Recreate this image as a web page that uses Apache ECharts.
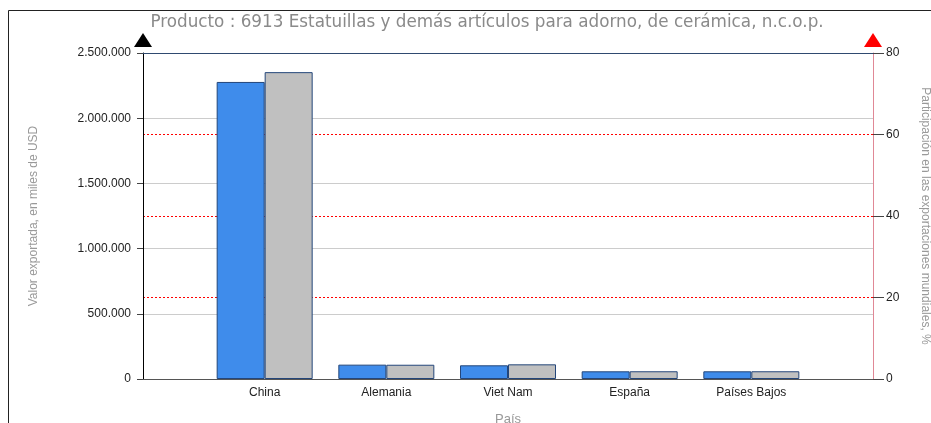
<!DOCTYPE html>
<html>
<head>
<meta charset="utf-8">
<script src="https://cdn.jsdelivr.net/npm/echarts@6/dist/echarts.min.js"></script>
<style>
  html, body { margin: 0; padding: 0; background: #fff; overflow: hidden; }
  #chart { width: 100vw; height: 100vh; }
</style>
</head>
<body>
<div id="chart"></div>
<script>
// paises (empty slots at both ends keep the spacing of the original)
var paises = ['', 'China', 'Alemania', 'Viet Nam', 'España', 'Países Bajos', ''];
// valor exportado, miles de USD
var valorExportado = [null, 2278000, 110000, 105000, 59000, 59000, null];
// participacion en las exportaciones mundiales, %
var participacion = [null, 75.3, 3.5, 3.6, 1.9, 1.9, null];

var valorTicks = [0, 500000, 1000000, 1500000, 2000000, 2500000];
var partTicks = [0, 20, 40, 60, 80];

function miles(v) {
  return String(v).replace(/\B(?=(\d{3})+(?!\d))/g, '.');
}

var myChart = echarts.init(document.getElementById('chart'));

var option = {
  animation: false,
  textStyle: { fontFamily: 'Liberation Sans' },
  title: {
    text: 'Producto : 6913 Estatuillas y demás artículos para adorno, de cerámica, n.c.o.p.',
    left: 482,
    top: 9,
    textAlign: 'center',
    textStyle: {
      color: '#8a8a8a',
      fontWeight: 'normal',
      fontSize: 16.8,
      fontFamily: 'DejaVu Sans'
    }
  },
  graphic: [{
    type: 'polyline',
    shape: { points: [[8.5, 500], [8.5, 10.5], [1000, 10.5]] },
    style: { fill: 'none', stroke: '#222', lineWidth: 1 },
    silent: true
  }],
  grid: {
    left: 143,
    right: 58,
    top: 53,
    bottom: 44,
    outerBoundsMode: 'none',
    containLabel: false
  },
  xAxis: [{
    type: 'category',
    data: paises,
    boundaryGap: false,
    z: 8,
    name: 'País',
    nameLocation: 'middle',
    nameGap: 34,
    nameTextStyle: { color: '#999', fontSize: 13 },
    axisLine: { lineStyle: { color: '#555' } },
    axisTick: { show: false },
    axisLabel: { color: '#222', fontSize: 12, margin: 8, interval: 0 },
    splitLine: { show: false }
  }, {
    // top border line of the plot
    type: 'category',
    data: paises,
    boundaryGap: false,
    position: 'top',
    z: 8,
    axisLine: { show: true, onZero: false, lineStyle: { color: '#2f4a70' } },
    axisTick: { show: false },
    axisLabel: { show: false },
    splitLine: { show: false }
  }],
  yAxis: [{
    type: 'value',
    min: 0,
    max: 2500000,
    interval: 500000,
    position: 'left',
    z: 6,
    name: 'Valor exportada, en miles de USD',
    nameLocation: 'middle',
    nameGap: 103,
    nameTextStyle: { color: '#999', fontSize: 12 },
    axisLine: {
      show: true,
      lineStyle: { color: '#000' },
      symbol: ['none', 'triangle'],
      symbolSize: [18, 14],
      symbolOffset: [0, 13]
    },
    axisTick: { show: true, length: 6, lineStyle: { color: '#444' } },
    axisLabel: {
      color: '#222',
      fontSize: 12,
      margin: 12,
      formatter: function (v) { return valorTicks.indexOf(v) >= 0 ? miles(v) : ''; }
    },
    splitLine: { show: true, showMinLine: false, showMaxLine: false, lineStyle: { color: '#cccccc' } }
  }, {
    type: 'value',
    min: 0,
    max: 80,
    interval: 20,
    position: 'right',
    z: 6,
    name: 'Participación en las exportaciones mundiales, %',
    nameLocation: 'middle',
    nameRotate: -90,
    nameGap: 46,
    nameTextStyle: { color: '#999', fontSize: 12 },
    axisLine: { show: true, lineStyle: { color: '#e08896' } },
    axisTick: { show: true, length: 11, lineStyle: { color: '#444' } },
    axisLabel: {
      color: '#222',
      fontSize: 12,
      margin: 13,
      formatter: function (v) { return partTicks.indexOf(v) >= 0 ? String(v) : ''; }
    },
    splitLine: {
      show: true,
      showMinLine: false,
      showMaxLine: false,
      lineStyle: { color: ['#ff0000'], type: [2, 2], width: 1, opacity: 1 }
    }
  }, {
    // only carries the red arrow head of the right axis
    type: 'value',
    min: 0,
    max: 80,
    position: 'right',
    z: 9,
    axisLine: {
      show: true,
      lineStyle: { color: '#ff0000', width: 0 },
      symbol: ['none', 'triangle'],
      symbolSize: [18, 14],
      symbolOffset: [0, 13]
    },
    axisTick: { show: false },
    axisLabel: { show: false },
    splitLine: { show: false }
  }],
  series: [{
    name: 'Valor exportado',
    type: 'bar',
    yAxisIndex: 0,
    barWidth: 48,
    barGap: 0,
    z: 7,
    data: valorExportado,
    itemStyle: { color: '#3f8ceb', borderColor: '#24467a', borderWidth: 1 }
  }, {
    name: 'Participación',
    type: 'bar',
    yAxisIndex: 1,
    barWidth: 48,
    barGap: 0,
    z: 7,
    data: participacion,
    itemStyle: { color: '#c0c0c0', borderColor: '#24467a', borderWidth: 1 }
  }]
};

myChart.setOption(option);
</script>
</body>
</html>
